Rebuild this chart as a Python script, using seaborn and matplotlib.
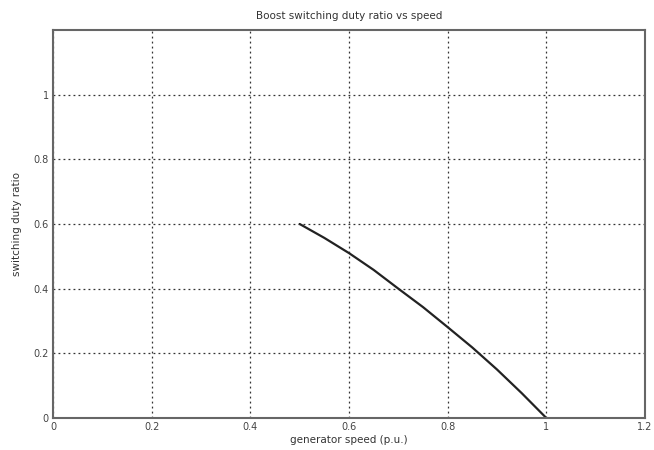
import matplotlib
matplotlib.use("Agg")
import matplotlib.pyplot as plt
import seaborn as sns
import pandas as pd

speed = [0.5, 0.55, 0.6, 0.65, 0.7, 0.75, 0.8, 0.85, 0.9, 0.95, 1.0]
duty = [0.60, 0.557, 0.51, 0.458, 0.40, 0.343, 0.281, 0.218, 0.15, 0.077, 0.0]
xticks = [0, 0.2, 0.4, 0.6, 0.8, 1.0, 1.2]
xticklabels = ["0", "0.2", "0.4", "0.6", "0.8", "1", "1.2"]
yticks = [0, 0.2, 0.4, 0.6, 0.8, 1.0]
yticklabels = ["0", "0.2", "0.4", "0.6", "0.8", "1"]

sns.set_style("white")
plt.rcParams['font.family'] = ['DejaVu Sans']

df = pd.DataFrame({"speed": speed, "duty": duty})

fig = plt.figure(figsize=(6.54, 4.5), dpi=100)
ax = fig.add_axes([53/654, 32/450, 592/654, 388/450])
sns.lineplot(data=df, x="speed", y="duty", ax=ax, color="#222222", linewidth=1.6)

ax.set_xlim(0, 1.2)
ax.set_ylim(0, 1.2)
ax.set_xticks(xticks)
ax.set_xticklabels(xticklabels)
ax.set_yticks(yticks)
ax.set_yticklabels(yticklabels)
ax.grid(True, linestyle=(0, (1.5, 2.5)), color="#333333", linewidth=0.9)
ax.tick_params(direction="in", length=4, width=1, colors="#555555",
               labelsize=7, labelcolor="#444444", pad=3)
for s in ax.spines.values():
    s.set_color("#666666")
    s.set_linewidth(1.5)

ax.set_title("Boost switching duty ratio vs speed", fontsize=7.5, color="#333333", pad=8)
ax.set_xlabel("generator speed (p.u.)", fontsize=7.5, color="#333333", labelpad=2)
ax.set_ylabel("switching duty ratio", fontsize=7.5, color="#333333", labelpad=8)

fig.savefig("out.png", dpi=100)
